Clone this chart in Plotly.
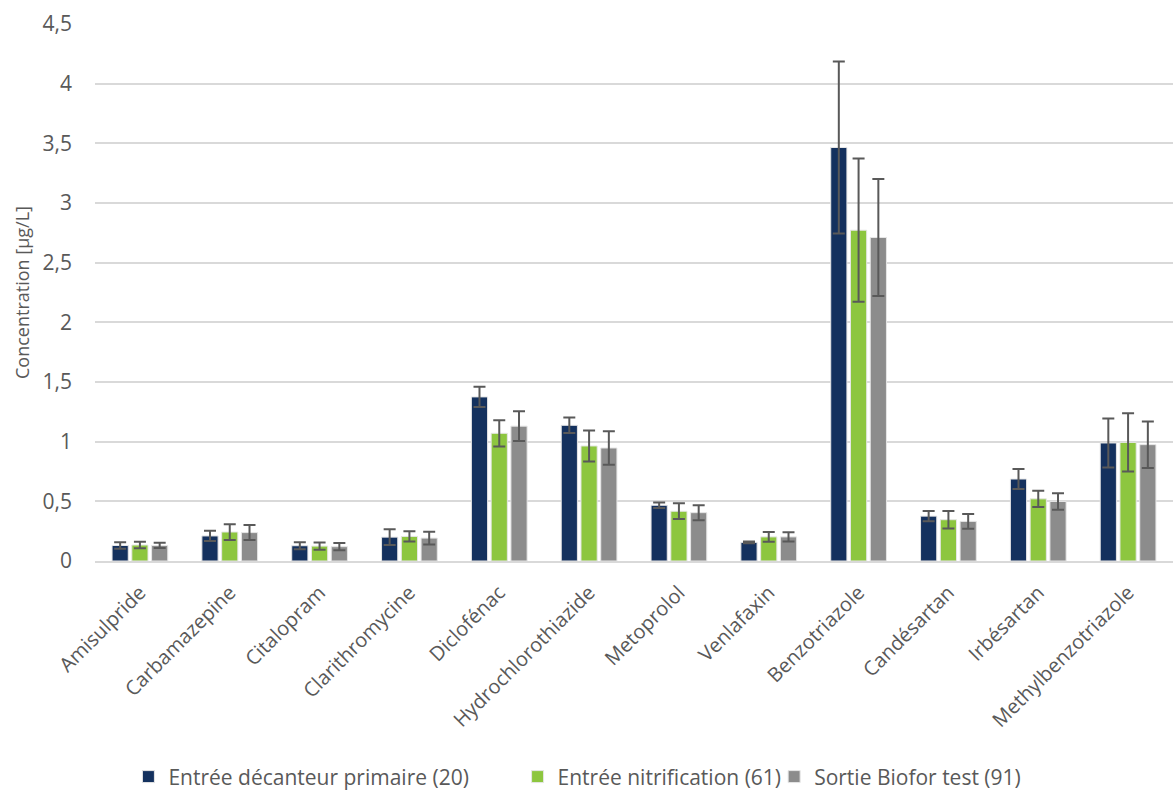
import plotly.graph_objects as go

# Substances analysed
categories = [
    "Amisulpride", "Carbamazepine", "Citalopram", "Clarithromycine",
    "Diclofénac", "Hydrochlorothiazide", "Metoprolol", "Venlafaxin",
    "Benzotriazole", "Candésartan", "Irbésartan", "Methylbenzotriazole",
]

# Mean concentrations (µg/L) per sampling point
entree_decanteur = [0.13, 0.21, 0.128, 0.20, 1.375, 1.137, 0.467, 0.156, 3.465, 0.376, 0.687, 0.989]
entree_nitrification = [0.134, 0.243, 0.125, 0.206, 1.07, 0.964, 0.417, 0.202, 2.772, 0.346, 0.521, 0.994]
sortie_biofor = [0.13, 0.238, 0.12, 0.192, 1.13, 0.947, 0.405, 0.202, 2.711, 0.332, 0.499, 0.975]

# Standard deviations (µg/L)
err_decanteur = [0.028, 0.043, 0.03, 0.066, 0.085, 0.065, 0.023, 0.008, 0.72, 0.042, 0.083, 0.206]
err_nitrification = [0.028, 0.066, 0.03, 0.043, 0.11, 0.13, 0.066, 0.04, 0.60, 0.073, 0.068, 0.245]
err_biofor = [0.022, 0.063, 0.03, 0.053, 0.125, 0.14, 0.063, 0.038, 0.49, 0.062, 0.069, 0.195]

series_names = [
    "Entrée décanteur primaire (20)",
    "Entrée nitrification (61)",
    "Sortie Biofor test (91)",
]
series_values = [entree_decanteur, entree_nitrification, sortie_biofor]
series_errors = [err_decanteur, err_nitrification, err_biofor]
series_colors = ["#14315E", "#8DC63F", "#8C8C8C"]

text_color = "#595959"
grid_color = "#D9D9D9"
font_family = "Open Sans, Liberation Sans, sans-serif"

# one legend box per series so each entry can be placed on its own
legend_ids = ["legend", "legend2", "legend3"]
legend_x = [0.031, 0.392, 0.630]

fig = go.Figure()
for name, vals, errs, color, leg in zip(series_names, series_values, series_errors,
                                        series_colors, legend_ids):
    fig.add_trace(go.Bar(
        name=name,
        x=categories,
        y=vals,
        legend=leg,
        showlegend=True,
        marker=dict(color=color, line=dict(color="#E6E6E6", width=1)),
        error_y=dict(type="data", array=errs, visible=True,
                     color=text_color, thickness=2, width=6),
    ))

legend_style = dict(
    yref="container", y=0.019, yanchor="middle", xanchor="left",
    font=dict(size=21, color=text_color, family=font_family),
    bgcolor="rgba(0,0,0,0)",
    visible=True,
)

fig.update_layout(
    width=1173,
    height=792,
    showlegend=True,
    barmode="group",
    bargap=0.34,
    bargroupgap=0.18,
    separators=", ",
    plot_bgcolor="white",
    paper_bgcolor="white",
    font=dict(family=font_family, color=text_color, size=16),
    margin=dict(l=95, r=0, t=24, b=231),
    legend=dict(x=legend_x[0], **legend_style),
    legend2=dict(x=legend_x[1], **legend_style),
    legend3=dict(x=legend_x[2], **legend_style),
    xaxis=dict(
        tickangle=-45,
        tickfont=dict(size=20, color=text_color),
        ticklabelstandoff=10,
        showline=True,
        linecolor=grid_color,
        linewidth=2,
        showgrid=False,
        automargin=False,
    ),
    yaxis=dict(
        range=[0, 4.5],
        dtick=0.5,
        showgrid=True,
        gridcolor=grid_color,
        gridwidth=1.5,
        zeroline=False,
        tickfont=dict(size=21, color=text_color),
        ticklabelstandoff=22,
        title=dict(text="Concentration [µg/L]", font=dict(size=18, color=text_color), standoff=8),
        automargin=False,
    ),
)

fig.write_html("out.html")
